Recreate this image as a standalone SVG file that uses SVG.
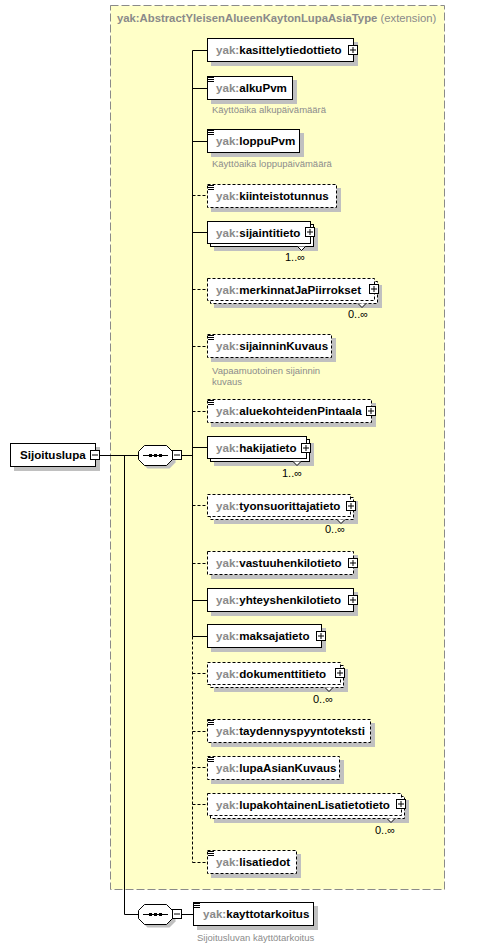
<svg xmlns="http://www.w3.org/2000/svg" xmlns:xlink="http://www.w3.org/1999/xlink" width="487" height="949" viewBox="0 0 487 949">
<style>
.ext{fill:#FFFFC8;stroke:#8a8a8a;stroke-dasharray:8,3}
.box{fill:#fff;stroke:#000}
.opt{stroke-dasharray:3,2}
.sh{fill:#c0c0c0}
.t{font-family:"Liberation Sans",Arial,sans-serif;font-size:11.6px;font-weight:bold;fill:#000}
.ns{fill:#8a8a8a}
.doc{font-family:"Liberation Sans",Arial,sans-serif;font-size:9.5px;fill:#8c8c8c}
.mult{font-family:"Liberation Sans",Arial,sans-serif;font-size:11px;fill:#000}
.ln{stroke:#000;fill:none}
.dl{stroke-dasharray:3,2}
.title{font-family:"Liberation Sans",Arial,sans-serif;font-size:11.3px;fill:#8a8a8a}
</style>
<defs>
<g id="plus"><rect x="0.5" y="0.5" width="9" height="9" fill="#fff" stroke="#000"/><path d="M2 5H8M5 2V8" stroke="#000" fill="none"/></g>
<g id="minus"><rect x="0.5" y="0.5" width="9" height="9" fill="#fff" stroke="#000"/><path d="M2 5H8" stroke="#000" fill="none"/></g>
<path id="simp" d="M1 1.5H7M1 3.5H7M1 5.5H7" stroke="#000" fill="none"/>
<path id="notch" d="M-4 0L0 4L4 0" fill="#fff" stroke="#000"/>
<path id="oct" d="M6.5 0.5H28.5L34.5 6.5V14.5L28.5 20.5H6.5L0.5 14.5V6.5Z"/>
<g id="seq">
<use xlink:href="#oct" transform="translate(3,3)" fill="#c0c0c0"/>
<use xlink:href="#oct" fill="#fff" stroke="#000"/>
<path d="M5 10.5H30" stroke="#000"/>
<rect x="11" y="9" width="3" height="3"/><rect x="16" y="9" width="3" height="3"/><rect x="21" y="9" width="3" height="3"/>
</g>
</defs>

<g id="extension">
<rect class="ext" x="110.5" y="5.5" width="334" height="884"/>
<text class="title" x="117" y="22"><tspan font-weight="bold">yak:AbstractYleisenAlueenKaytonLupaAsiaType</tspan> (extension)</text>
</g>

<g id="connectors">
<path class="ln" d="M100 455.5H138M124.5 455.5V914.5H138M182 455.5H192.5M192.5 50.5V636.5M182 914.5H193"/>
<path class="ln dl" d="M192.5 636.5V862.5"/>
<path class="ln" d="M192.5 50.5H207M192.5 88.5H207M192.5 141.5H207M192.5 232.5H207M192.5 447.5H207M192.5 600.5H207M192.5 636.5H207"/>
<path class="ln dl" d="M192.5 195.5H207M192.5 289.5H207M192.5 346.5H207M192.5 411.5H207M192.5 505.5H207M192.5 563.5H207M192.5 673.5H207M192.5 731.5H207M192.5 767.5H207M192.5 804.5H207M192.5 862.5H207"/>
</g>

<g id="Sijoituslupa">
<rect class="sh" x="14" y="447" width="86" height="24"/>
<rect class="box" x="10.5" y="443.5" width="85" height="23"/>
<text class="t" x="20" y="459">Sijoituslupa</text>
<use xlink:href="#minus" x="90" y="450"/>
</g>

<g id="sequence1"><use xlink:href="#seq" x="138" y="445"/><use xlink:href="#minus" x="172" y="450"/></g>
<g id="sequence2"><use xlink:href="#seq" x="138" y="904"/><use xlink:href="#minus" x="172" y="909"/></g>

<g id="kasittelytiedottieto">
<rect class="sh" x="211" y="42" width="147" height="24"/>
<rect class="box" x="207.5" y="38.5" width="146" height="23"/>
<text class="t" x="216" y="54"><tspan class="ns">yak:</tspan>kasittelytiedottieto</text>
<use xlink:href="#plus" x="348" y="45"/>
</g>

<g id="alkuPvm">
<rect class="sh" x="211" y="80" width="86" height="24"/>
<rect class="box" x="207.5" y="76.5" width="85" height="23"/>
<use xlink:href="#simp" x="207" y="76"/>
<text class="t" x="216" y="92"><tspan class="ns">yak:</tspan>alkuPvm</text>
<text class="doc" x="212" y="113">Käyttöaika alkupäivämäärä</text>
</g>

<g id="loppuPvm">
<rect class="sh" x="211" y="133" width="93" height="24"/>
<rect class="box" x="207.5" y="129.5" width="92" height="23"/>
<use xlink:href="#simp" x="207" y="129"/>
<text class="t" x="216" y="145"><tspan class="ns">yak:</tspan>loppuPvm</text>
<text class="doc" x="212" y="167">Käyttöaika loppupäivämäärä</text>
</g>

<g id="kiinteistotunnus">
<rect class="sh" x="211" y="188" width="130" height="24"/>
<rect class="box opt" x="207.5" y="184.5" width="129" height="23"/>
<use xlink:href="#simp" x="207" y="184"/>
<text class="t" x="216" y="200"><tspan class="ns">yak:</tspan>kiinteistotunnus</text>
</g>

<g id="sijaintitieto">
<rect class="sh" x="214" y="228" width="104" height="23"/>
<rect class="box" x="210.5" y="224.5" width="103" height="22"/>
<rect class="box" x="207.5" y="221.5" width="103" height="22"/>
<use xlink:href="#notch" x="301.5" y="246.5"/>
<text class="t" x="216" y="237"><tspan class="ns">yak:</tspan>sijaintitieto</text>
<use xlink:href="#plus" x="305" y="227"/>
<text class="mult" x="285" y="261">1..∞</text>
</g>

<g id="merkinnatJaPiirrokset">
<rect class="sh" x="214" y="285" width="168" height="23"/>
<rect class="box opt" x="210.5" y="281.5" width="167" height="22"/>
<rect class="box opt" x="207.5" y="278.5" width="167" height="22"/>
<use xlink:href="#notch" x="362" y="303.5"/>
<text class="t" x="216" y="294"><tspan class="ns">yak:</tspan>merkinnatJaPiirrokset</text>
<use xlink:href="#plus" x="369" y="284"/>
<text class="mult" x="348" y="318">0..∞</text>
</g>

<g id="sijainninKuvaus">
<rect class="sh" x="211" y="338" width="125" height="24"/>
<rect class="box opt" x="207.5" y="334.5" width="124" height="23"/>
<use xlink:href="#simp" x="207" y="334"/>
<text class="t" x="216" y="350"><tspan class="ns">yak:</tspan>sijainninKuvaus</text>
<text class="doc" x="212" y="374">Vapaamuotoinen sijainnin</text>
<text class="doc" x="212" y="385">kuvaus</text>
</g>

<g id="aluekohteidenPintaala">
<rect class="sh" x="211" y="403" width="165" height="24"/>
<rect class="box opt" x="207.5" y="399.5" width="164" height="23"/>
<use xlink:href="#simp" x="207" y="399"/>
<text class="t" x="216" y="415"><tspan class="ns">yak:</tspan>aluekohteidenPintaala</text>
<use xlink:href="#plus" x="366" y="406"/>
</g>

<g id="hakijatieto">
<rect class="sh" x="214" y="443" width="100" height="23"/>
<rect class="box" x="210.5" y="439.5" width="99" height="22"/>
<rect class="box" x="207.5" y="436.5" width="99" height="22"/>
<use xlink:href="#notch" x="297" y="461.5"/>
<text class="t" x="216" y="452"><tspan class="ns">yak:</tspan>hakijatieto</text>
<use xlink:href="#plus" x="301" y="443"/>
<text class="mult" x="282" y="477">1..∞</text>
</g>

<g id="tyonsuorittajatieto">
<rect class="sh" x="214" y="501" width="144" height="23"/>
<rect class="box opt" x="210.5" y="497.5" width="143" height="22"/>
<rect class="box opt" x="207.5" y="494.5" width="143" height="22"/>
<use xlink:href="#notch" x="341" y="519.5"/>
<text class="t" x="216" y="510"><tspan class="ns">yak:</tspan>tyonsuorittajatieto</text>
<use xlink:href="#plus" x="346" y="501"/>
<text class="mult" x="325" y="533">0..∞</text>
</g>

<g id="vastuuhenkilotieto">
<rect class="sh" x="211" y="555" width="147" height="24"/>
<rect class="box opt" x="207.5" y="551.5" width="146" height="23"/>
<text class="t" x="216" y="567"><tspan class="ns">yak:</tspan>vastuuhenkilotieto</text>
<use xlink:href="#plus" x="348" y="558"/>
</g>

<g id="yhteyshenkilotieto">
<rect class="sh" x="211" y="592" width="147" height="24"/>
<rect class="box" x="207.5" y="588.5" width="146" height="23"/>
<text class="t" x="216" y="604"><tspan class="ns">yak:</tspan>yhteyshenkilotieto</text>
<use xlink:href="#plus" x="348" y="595"/>
</g>

<g id="maksajatieto">
<rect class="sh" x="211" y="628" width="115" height="24"/>
<rect class="box" x="207.5" y="624.5" width="114" height="23"/>
<text class="t" x="216" y="640"><tspan class="ns">yak:</tspan>maksajatieto</text>
<use xlink:href="#plus" x="316" y="631"/>
</g>

<g id="dokumenttitieto">
<rect class="sh" x="214" y="669" width="134" height="23"/>
<rect class="box opt" x="210.5" y="665.5" width="133" height="22"/>
<rect class="box opt" x="207.5" y="662.5" width="133" height="22"/>
<use xlink:href="#notch" x="329" y="687.5"/>
<text class="t" x="216" y="678"><tspan class="ns">yak:</tspan>dokumenttitieto</text>
<use xlink:href="#plus" x="335" y="668"/>
<text class="mult" x="313" y="703">0..∞</text>
</g>

<g id="taydennyspyyntoteksti">
<rect class="sh" x="211" y="723" width="164" height="24"/>
<rect class="box opt" x="207.5" y="719.5" width="163" height="23"/>
<use xlink:href="#simp" x="207" y="719"/>
<text class="t" x="216" y="735"><tspan class="ns">yak:</tspan>taydennyspyyntoteksti</text>
</g>

<g id="lupaAsianKuvaus">
<rect class="sh" x="211" y="760" width="133" height="24"/>
<rect class="box opt" x="207.5" y="756.5" width="132" height="23"/>
<use xlink:href="#simp" x="207" y="756"/>
<text class="t" x="216" y="772"><tspan class="ns">yak:</tspan>lupaAsianKuvaus</text>
</g>

<g id="lupakohtainenLisatietotieto">
<rect class="sh" x="214" y="800" width="195" height="23"/>
<rect class="box opt" x="210.5" y="796.5" width="194" height="22"/>
<rect class="box opt" x="207.5" y="793.5" width="194" height="22"/>
<use xlink:href="#notch" x="391" y="818.5"/>
<text class="t" x="216" y="809"><tspan class="ns">yak:</tspan>lupakohtainenLisatietotieto</text>
<use xlink:href="#plus" x="396" y="799"/>
<text class="mult" x="375" y="834">0..∞</text>
</g>

<g id="lisatiedot">
<rect class="sh" x="211" y="854" width="90" height="24"/>
<rect class="box opt" x="207.5" y="850.5" width="89" height="23"/>
<use xlink:href="#simp" x="207" y="850"/>
<text class="t" x="216" y="866"><tspan class="ns">yak:</tspan>lisatiedot</text>
</g>

<g id="kayttotarkoitus">
<rect class="sh" x="197" y="906" width="121" height="24"/>
<rect class="box" x="193.5" y="902.5" width="120" height="23"/>
<use xlink:href="#simp" x="193" y="902"/>
<text class="t" x="203" y="918"><tspan class="ns">yak:</tspan>kayttotarkoitus</text>
<text class="doc" x="197" y="941">Sijoitusluvan käyttötarkoitus</text>
</g>
</svg>
